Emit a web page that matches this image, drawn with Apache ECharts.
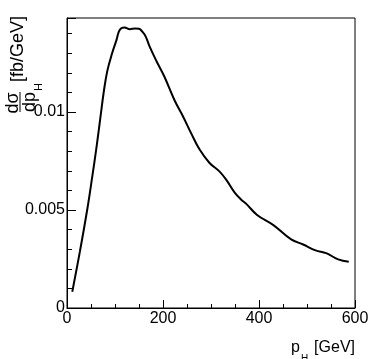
<!DOCTYPE html>
<html>
<head>
<meta charset="utf-8">
<script src="https://cdn.jsdelivr.net/npm/echarts@6/dist/echarts.min.js"></script>
<style>
  html, body { margin: 0; padding: 0; background: #fff; }
  #chart { width: 374px; height: 359px; }
</style>
</head>
<body>
<div id="chart"></div>
<script>
// values
const ptH = [11, 27, 42, 52, 62, 70, 77, 84, 94, 103, 108, 113, 120, 131, 142, 150, 157, 164, 172, 186, 203, 224, 242, 259, 276, 297, 318, 333, 349, 362, 374, 396, 430, 467, 492, 518, 540, 565, 587]
const dsigma = [0.00083, 0.0029, 0.0050, 0.0066, 0.0083, 0.0098, 0.0111, 0.0121, 0.0130, 0.01367, 0.0141, 0.01428, 0.01432, 0.01423, 0.01427, 0.01425, 0.0141, 0.01385, 0.01335, 0.01262, 0.0118, 0.0106, 0.00976, 0.0089, 0.0081, 0.0074, 0.00696, 0.0065, 0.0059, 0.00555, 0.0053, 0.00475, 0.00423, 0.0035, 0.00324, 0.00294, 0.0028, 0.00248, 0.00236]

const yTickValues = [0, 0.005, 0.01]
const yTickLabels = ['0', '0.005', '0.01']
const xTickLabels = ['0', '200', '400', '600']

const FONT = "'Liberation Sans', Arial, sans-serif"

const chart = echarts.init(document.getElementById('chart'))

chart.setOption({
  animation: false,
  grid: {
    left: 67, right: 19, top: 18, bottom: 51,
    show: true, borderColor: '#000', borderWidth: 1
  },
  xAxis: {
    type: 'value',
    min: 0, max: 600, interval: 200,
    axisLine: { lineStyle: { color: '#000' } },
    axisTick: { inside: true, length: 8, lineStyle: { color: '#000' } },
    minorTick: { show: true, splitNumber: 4, length: 4, lineStyle: { color: '#000' } },
    splitLine: { show: false },
    axisLabel: {
      margin: 3, fontSize: 16, fontFamily: FONT, color: '#000',
      formatter: v => xTickLabels[Math.round(v / 200)] || ''
    }
  },
  yAxis: [{
    type: 'value',
    min: 0, max: 0.0148, interval: 0.001,
    axisLine: { show: true, lineStyle: { color: '#000' } },
    axisTick: { inside: true, length: 5, lineStyle: { color: '#000' } },
    splitLine: { show: false },
    axisLabel: {
      margin: 2, fontSize: 16, fontFamily: FONT, color: '#000',
      formatter: v => {
        const i = yTickValues.findIndex(t => Math.abs(t - v) < 1e-7)
        return i >= 0 ? yTickLabels[i] : ''
      }
    }
  }, {
    // longer ticks at the labelled values
    type: 'value',
    position: 'left',
    min: 0, max: 0.0148, interval: 0.005,
    axisLine: { show: false },
    axisTick: { inside: true, length: 9, lineStyle: { color: '#000' } },
    axisLabel: { show: false },
    splitLine: { show: false }
  }],
  graphic: [
    {
      type: 'group', x: 20, y: 112, rotation: Math.PI / 2,
      children: [
        { type: 'text', style: { text: 'dσ', x: 9, y: 2, font: '18px ' + FONT, fill: '#000', align: 'center', verticalAlign: 'bottom' } },
        { type: 'line', shape: { x1: 0, y1: 0, x2: 20, y2: 0 }, style: { stroke: '#000', lineWidth: 1 } },
        { type: 'text', style: { text: 'dp', x: 10, y: 1, font: '18px ' + FONT, fill: '#000', align: 'center', verticalAlign: 'top' } },
        { type: 'text', style: { text: 'H', x: 21, y: 13, font: '11px ' + FONT, fill: '#000', align: 'left', verticalAlign: 'top' } },
        { type: 'text', style: { text: '[fb/GeV]', x: 30, y: -2, font: '18px ' + FONT, fill: '#000', align: 'left', verticalAlign: 'middle' } }
      ]
    },
    { type: 'text', style: { text: 'p', x: 291, y: 348, font: '16px ' + FONT, fill: '#000', align: 'left', verticalAlign: 'middle' } },
    { type: 'text', style: { text: 'H', x: 301, y: 359, font: '10px ' + FONT, fill: '#000', align: 'left', verticalAlign: 'middle' } },
    { type: 'text', style: { text: '[GeV]', x: 355, y: 348, font: '16px ' + FONT, fill: '#000', align: 'right', verticalAlign: 'middle' } }
  ],
  series: [{
    type: 'line',
    data: ptH.map((x, i) => [x, dsigma[i]]),
    smooth: 0.4,
    showSymbol: false,
    lineStyle: { color: '#000', width: 2 }
  }]
})
</script>
</body>
</html>
